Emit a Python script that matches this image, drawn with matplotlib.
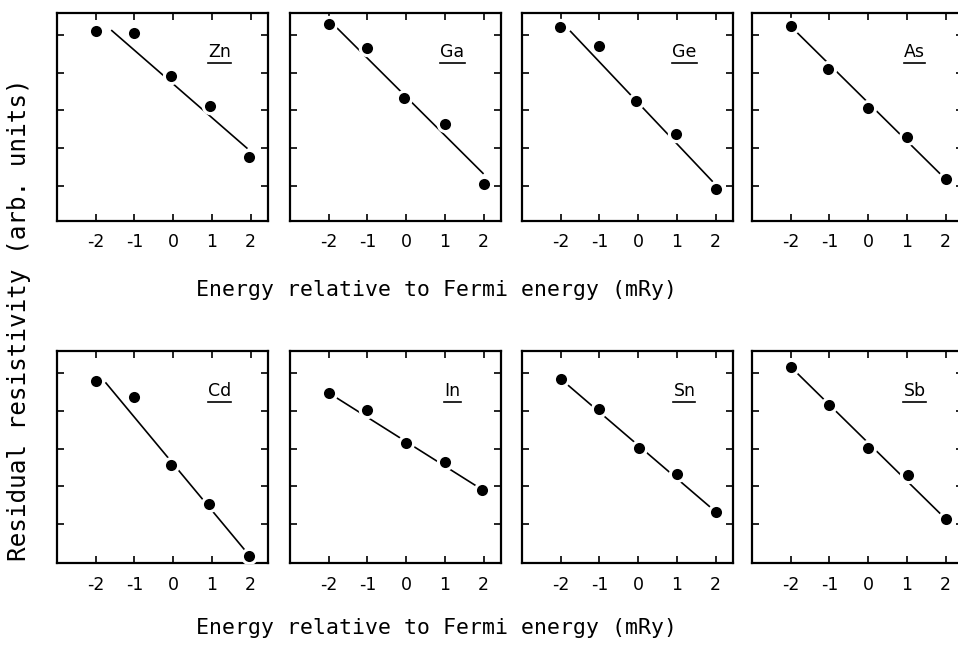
import matplotlib
matplotlib.use("Agg")
import matplotlib.pyplot as plt
from matplotlib.lines import Line2D

plt.rcParams['font.family'] = ['DejaVu Sans']

elements = ["Zn", "Ga", "Ge", "As", "Cd", "In", "Sn", "Sb"]
xticks = [-2, -1, 0, 1, 2]
xtick_labels = ["-2", "-1", "0", "1", "2"]

# measured points (energy offset, residual resistivity in arb. units)
x_zn = [-2.0, -1.02, -0.06, 0.94, 1.95]
y_zn = [5.11, 5.05, 3.91, 3.11, 1.77]
x_ga = [-2.0, -1.02, -0.05, 1.0, 2.0]
y_ga = [5.29, 4.65, 3.34, 2.65, 1.05]
x_ge = [-2.03, -1.02, -0.05, 0.99, 2.0]
y_ge = [5.20, 4.71, 3.24, 2.37, 0.91]
x_as = [-2.0, -1.03, 0.0, 1.01, 2.0]
y_as = [5.23, 4.09, 3.07, 2.29, 1.18]
x_cd = [-2.0, -1.01, -0.05, 0.92, 1.95]
y_cd = [4.80, 4.38, 2.57, 1.54, 0.16]
x_in = [-2.0, -1.0, 0.0, 1.0, 1.97]
y_in = [4.48, 4.03, 3.15, 2.65, 1.91]
x_sn = [-2.0, -1.0, 0.02, 1.0, 2.0]
y_sn = [4.85, 4.05, 3.02, 2.33, 1.33]
x_sb = [-2.0, -1.0, 0.0, 1.02, 2.0]
y_sb = [5.17, 4.16, 3.02, 2.31, 1.14]

# fitted straight lines (start/end)
fx_zn = [-1.6, 1.92];  fy_zn = [5.13, 1.99]
fx_ga = [-1.8, 2.0];   fy_ga = [5.20, 1.32]
fx_ge = [-1.76, 1.93]; fy_ge = [5.11, 1.11]
fx_as = [-2.0, 2.0];   fy_as = [5.23, 1.18]
fx_cd = [-1.75, 1.87]; fy_cd = [4.76, 0.29]
fx_in = [-2.0, 1.97];  fy_in = [4.48, 1.91]
fx_sn = [-2.0, 2.0];   fy_sn = [4.85, 1.33]
fx_sb = [-2.0, 2.0];   fy_sb = [5.17, 1.14]

xs = [x_zn, x_ga, x_ge, x_as, x_cd, x_in, x_sn, x_sb]
ys = [y_zn, y_ga, y_ge, y_as, y_cd, y_in, y_sn, y_sb]
fxs = [fx_zn, fx_ga, fx_ge, fx_as, fx_cd, fx_in, fx_sn, fx_sb]
fys = [fy_zn, fy_ga, fy_ge, fy_as, fy_cd, fy_in, fy_sn, fy_sb]

W, H = 958, 647
fig = plt.figure(figsize=(W / 100, H / 100), dpi=100)

lefts = [57, 290, 522, 752]
pw = 211
rows = [(12.7, 220.7, 0.08, 5.59), (351, 563, -0.03, 5.59)]

axes = []
for i, el in enumerate(elements):
    r, c = divmod(i, 4)
    top, bot, ylo, yhi = rows[r]
    ax = fig.add_axes([lefts[c] / W, 1 - bot / H, pw / W, (bot - top) / H])
    ax.plot(fxs[i], fys[i], color='black', lw=1.2, zorder=2, solid_capstyle='butt')
    ax.plot(xs[i], ys[i], 'o', color='white', ms=12.5, mew=0, zorder=3)
    ax.plot(xs[i], ys[i], 'o', color='black', ms=8, mew=0, zorder=4)
    ax.set_xlim(-3.0, 2.45)
    ax.set_ylim(ylo, yhi)
    ax.set_xticks(xticks)
    ax.set_xticklabels(xtick_labels)
    ax.set_yticks([1, 2, 3, 4, 5])
    ax.set_yticklabels([])
    ax.tick_params(direction='in', top=True, right=True, length=5, width=1.2,
                   labelsize=12.5, pad=9, colors='black')
    for s in ax.spines.values():
        s.set_linewidth(1.6)
    ax.text(0.77, 0.81, el, transform=ax.transAxes, ha='center', va='center',
            fontsize=12.5)
    axes.append(ax)

mono = ['DejaVu Sans Mono']
fig.text(436 / W, 1 - 290 / H, "Energy relative to Fermi energy (mRy)",
         ha='center', va='center', fontsize=15.5, family=mono)
fig.text(436 / W, 1 - 628 / H, "Energy relative to Fermi energy (mRy)",
         ha='center', va='center', fontsize=15.5, family=mono)
fig.text(19 / W, 1 - 320 / H, "Residual resistivity (arb. units)",
         ha='center', va='center', rotation=90, fontsize=17.5, family=mono)

# underline the element labels
fig.canvas.draw()
renderer = fig.canvas.get_renderer()
for ax in axes:
    for t in ax.texts:
        bb = t.get_window_extent(renderer)
        yline = bb.y0 - 1.5
        fig.add_artist(Line2D([bb.x0 / W, bb.x1 / W], [yline / H, yline / H],
                              transform=fig.transFigure, color='black', lw=1.2))

fig.savefig("out.png", dpi=100)
